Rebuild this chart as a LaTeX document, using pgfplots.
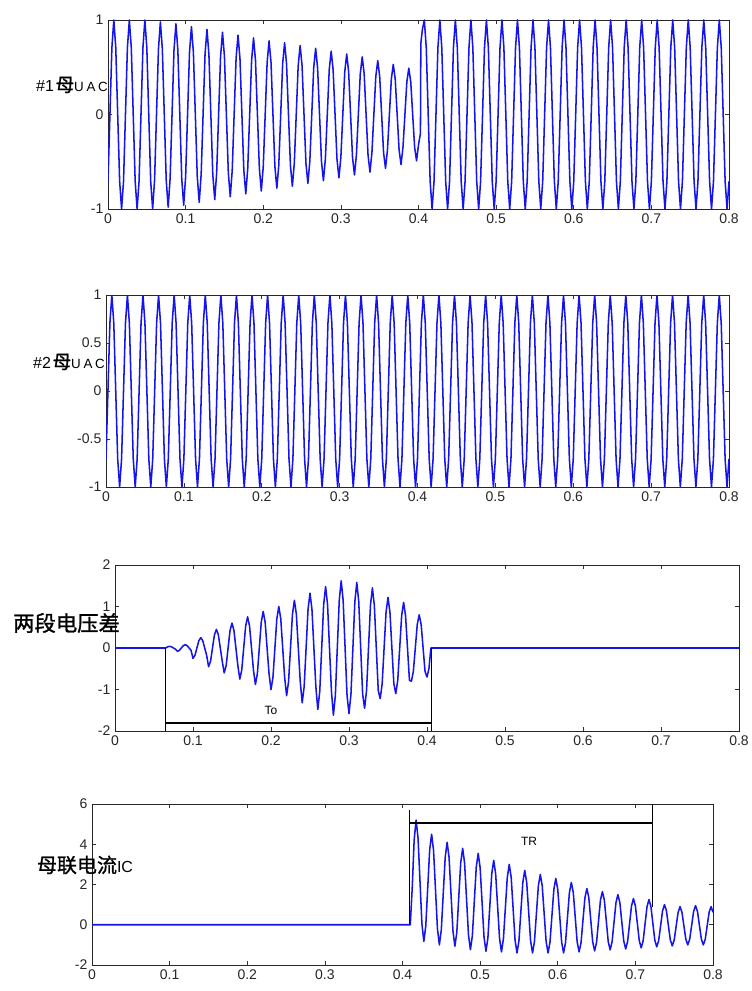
\documentclass[border=0pt]{standalone}
\usepackage{fontspec}
\setmainfont{Liberation Sans}
\newfontfamily\cjk[FakeBold=1.2]{Noto Sans CJK SC}
\usepackage{pgfplots}
\pgfplotsset{compat=1.18}
\definecolor{wave}{RGB}{20,20,235}
\pgfplotsset{
  mpanel/.style={scale only axis,anchor=north west,xmin=0,xmax=0.8,
    xtick={0,0.1,0.2,0.3,0.4,0.5,0.6,0.7,0.8},
    tick align=inside,major tick length=3pt,
    axis line style={black!85,line width=0.7pt},
    tick style={black!80,line width=0.5pt},
    tick label style={font=\fontsize{10.5}{12}\selectfont,color=black!85},
    /pgf/number format/assume math mode=true,
    /pgf/number format/fixed,scaled ticks=false},
  wv/.style={color=wave,line width=1.15pt,line join=round},
  note/.style={black,line width=1.1pt}}
\begin{document}
\begin{tikzpicture}
\path[use as bounding box] (0,0) rectangle (564pt,-743.25pt);

% #1 bus voltage
\begin{axis}[mpanel,at={(81pt,-15pt)},width=465.75pt,height=141.75pt,ymin=-1,ymax=1,ytick={-1,0,1}]
\addplot[wv] coordinates {
(0,-0.707)(0.0025,0)(0.005,0.707)(0.0075,1)(0.01,0.707)(0.0125,0)(0.015,-0.707)(0.0175,-1)
(0.02,-0.707)(0.0225,0)(0.025,0.707)(0.0275,1)(0.03,0.707)(0.0325,0)(0.035,-0.707)(0.0375,-1)
(0.04,-0.707)(0.0425,0)(0.045,0.707)(0.0475,1)(0.05,0.707)(0.0525,0)(0.055,-0.707)(0.0575,-1)
(0.06,-0.693)(0.0625,0)(0.065,0.693)(0.0675,0.98)(0.07,0.693)(0.0725,0)(0.075,-0.693)(0.0775,-0.98)
(0.08,-0.679)(0.0825,0)(0.085,0.679)(0.0875,0.96)(0.09,0.679)(0.0925,0)(0.095,-0.679)(0.0975,-0.96)
(0.1,-0.658)(0.1025,0)(0.105,0.658)(0.1075,0.93)(0.11,0.658)(0.1125,0)(0.115,-0.658)(0.1175,-0.93)
(0.12,-0.636)(0.1225,0)(0.125,0.636)(0.1275,0.9)(0.13,0.636)(0.1325,0)(0.135,-0.636)(0.1375,-0.9)
(0.14,-0.615)(0.1425,0)(0.145,0.615)(0.1475,0.87)(0.15,0.615)(0.1525,0)(0.155,-0.615)(0.1575,-0.87)
(0.16,-0.594)(0.1625,0)(0.165,0.594)(0.1675,0.84)(0.17,0.594)(0.1725,0)(0.175,-0.594)(0.1775,-0.84)
(0.18,-0.573)(0.1825,0)(0.185,0.573)(0.1875,0.81)(0.19,0.573)(0.1925,0)(0.195,-0.573)(0.1975,-0.81)
(0.2,-0.551)(0.2025,0)(0.205,0.551)(0.2075,0.78)(0.21,0.551)(0.2125,0)(0.215,-0.551)(0.2175,-0.78)
(0.22,-0.537)(0.2225,0)(0.225,0.537)(0.2275,0.76)(0.23,0.537)(0.2325,0)(0.235,-0.537)(0.2375,-0.76)
(0.24,-0.516)(0.2425,0)(0.245,0.516)(0.2475,0.73)(0.25,0.516)(0.2525,0)(0.255,-0.516)(0.2575,-0.73)
(0.26,-0.495)(0.2625,0)(0.265,0.495)(0.2675,0.7)(0.27,0.495)(0.2725,0)(0.275,-0.495)(0.2775,-0.7)
(0.28,-0.474)(0.2825,0)(0.285,0.474)(0.2875,0.67)(0.29,0.474)(0.2925,0)(0.295,-0.474)(0.2975,-0.67)
(0.3,-0.452)(0.3025,0)(0.305,0.452)(0.3075,0.64)(0.31,0.452)(0.3125,0)(0.315,-0.452)(0.3175,-0.64)
(0.32,-0.431)(0.3225,0)(0.325,0.431)(0.3275,0.61)(0.33,0.431)(0.3325,0)(0.335,-0.431)(0.3375,-0.61)
(0.34,-0.403)(0.3425,0)(0.345,0.403)(0.3475,0.57)(0.35,0.403)(0.3525,0)(0.355,-0.403)(0.3575,-0.57)
(0.36,-0.375)(0.3625,0)(0.365,0.375)(0.3675,0.53)(0.37,0.375)(0.3725,0)(0.375,-0.375)(0.3775,-0.53)
(0.38,-0.346)(0.3825,0)(0.385,0.346)(0.3875,0.49)(0.39,0.346)(0.3925,0)(0.395,-0.346)(0.3975,-0.49)
(0.4,-0.32)(0.4025,-0.2)(0.403,0.75)(0.405,0.9)(0.4075,1)(0.41,0.707)(0.4125,0)(0.415,-0.707)(0.4175,-1)
(0.42,-0.707)(0.4225,0)(0.425,0.707)(0.4275,1)(0.43,0.707)(0.4325,0)(0.435,-0.707)(0.4375,-1)
(0.44,-0.707)(0.4425,0)(0.445,0.707)(0.4475,1)(0.45,0.707)(0.4525,0)(0.455,-0.707)(0.4575,-1)
(0.46,-0.707)(0.4625,0)(0.465,0.707)(0.4675,1)(0.47,0.707)(0.4725,0)(0.475,-0.707)(0.4775,-1)
(0.48,-0.707)(0.4825,0)(0.485,0.707)(0.4875,1)(0.49,0.707)(0.4925,0)(0.495,-0.707)(0.4975,-1)
(0.5,-0.707)(0.5025,0)(0.505,0.707)(0.5075,1)(0.51,0.707)(0.5125,0)(0.515,-0.707)(0.5175,-1)
(0.52,-0.707)(0.5225,0)(0.525,0.707)(0.5275,1)(0.53,0.707)(0.5325,0)(0.535,-0.707)(0.5375,-1)
(0.54,-0.707)(0.5425,0)(0.545,0.707)(0.5475,1)(0.55,0.707)(0.5525,0)(0.555,-0.707)(0.5575,-1)
(0.56,-0.707)(0.5625,0)(0.565,0.707)(0.5675,1)(0.57,0.707)(0.5725,0)(0.575,-0.707)(0.5775,-1)
(0.58,-0.707)(0.5825,0)(0.585,0.707)(0.5875,1)(0.59,0.707)(0.5925,0)(0.595,-0.707)(0.5975,-1)
(0.6,-0.707)(0.6025,0)(0.605,0.707)(0.6075,1)(0.61,0.707)(0.6125,0)(0.615,-0.707)(0.6175,-1)
(0.62,-0.707)(0.6225,0)(0.625,0.707)(0.6275,1)(0.63,0.707)(0.6325,0)(0.635,-0.707)(0.6375,-1)
(0.64,-0.707)(0.6425,0)(0.645,0.707)(0.6475,1)(0.65,0.707)(0.6525,0)(0.655,-0.707)(0.6575,-1)
(0.66,-0.707)(0.6625,0)(0.665,0.707)(0.6675,1)(0.67,0.707)(0.6725,0)(0.675,-0.707)(0.6775,-1)
(0.68,-0.707)(0.6825,0)(0.685,0.707)(0.6875,1)(0.69,0.707)(0.6925,0)(0.695,-0.707)(0.6975,-1)
(0.7,-0.707)(0.7025,0)(0.705,0.707)(0.7075,1)(0.71,0.707)(0.7125,0)(0.715,-0.707)(0.7175,-1)
(0.72,-0.707)(0.7225,0)(0.725,0.707)(0.7275,1)(0.73,0.707)(0.7325,0)(0.735,-0.707)(0.7375,-1)
(0.74,-0.707)(0.7425,0)(0.745,0.707)(0.7475,1)(0.75,0.707)(0.7525,0)(0.755,-0.707)(0.7575,-1)
(0.76,-0.707)(0.7625,0)(0.765,0.707)(0.7675,1)(0.77,0.707)(0.7725,0)(0.775,-0.707)(0.7775,-1)
(0.78,-0.707)(0.7825,0)(0.785,0.707)(0.7875,1)(0.79,0.707)(0.7925,0)(0.795,-0.707)(0.7975,-1)
(0.8,-0.707)};
\end{axis}

% #2 bus voltage
\begin{axis}[mpanel,at={(79.5pt,-221.25pt)},width=467.25pt,height=144pt,ymin=-1,ymax=1,ytick={-1,-0.5,0,0.5,1}]
\addplot[wv] coordinates {
(0,-0.707)(0.0025,0)(0.005,0.707)(0.0075,1)(0.01,0.707)(0.0125,0)(0.015,-0.707)(0.0175,-1)
(0.02,-0.707)(0.0225,0)(0.025,0.707)(0.0275,1)(0.03,0.707)(0.0325,0)(0.035,-0.707)(0.0375,-1)
(0.04,-0.707)(0.0425,0)(0.045,0.707)(0.0475,1)(0.05,0.707)(0.0525,0)(0.055,-0.707)(0.0575,-1)
(0.06,-0.707)(0.0625,0)(0.065,0.707)(0.0675,1)(0.07,0.707)(0.0725,0)(0.075,-0.707)(0.0775,-1)
(0.08,-0.707)(0.0825,0)(0.085,0.707)(0.0875,1)(0.09,0.707)(0.0925,0)(0.095,-0.707)(0.0975,-1)
(0.1,-0.707)(0.1025,0)(0.105,0.707)(0.1075,1)(0.11,0.707)(0.1125,0)(0.115,-0.707)(0.1175,-1)
(0.12,-0.707)(0.1225,0)(0.125,0.707)(0.1275,1)(0.13,0.707)(0.1325,0)(0.135,-0.707)(0.1375,-1)
(0.14,-0.707)(0.1425,0)(0.145,0.707)(0.1475,1)(0.15,0.707)(0.1525,0)(0.155,-0.707)(0.1575,-1)
(0.16,-0.707)(0.1625,0)(0.165,0.707)(0.1675,1)(0.17,0.707)(0.1725,0)(0.175,-0.707)(0.1775,-1)
(0.18,-0.707)(0.1825,0)(0.185,0.707)(0.1875,1)(0.19,0.707)(0.1925,0)(0.195,-0.707)(0.1975,-1)
(0.2,-0.707)(0.2025,0)(0.205,0.707)(0.2075,1)(0.21,0.707)(0.2125,0)(0.215,-0.707)(0.2175,-1)
(0.22,-0.707)(0.2225,0)(0.225,0.707)(0.2275,1)(0.23,0.707)(0.2325,0)(0.235,-0.707)(0.2375,-1)
(0.24,-0.707)(0.2425,0)(0.245,0.707)(0.2475,1)(0.25,0.707)(0.2525,0)(0.255,-0.707)(0.2575,-1)
(0.26,-0.707)(0.2625,0)(0.265,0.707)(0.2675,1)(0.27,0.707)(0.2725,0)(0.275,-0.707)(0.2775,-1)
(0.28,-0.707)(0.2825,0)(0.285,0.707)(0.2875,1)(0.29,0.707)(0.2925,0)(0.295,-0.707)(0.2975,-1)
(0.3,-0.707)(0.3025,0)(0.305,0.707)(0.3075,1)(0.31,0.707)(0.3125,0)(0.315,-0.707)(0.3175,-1)
(0.32,-0.707)(0.3225,0)(0.325,0.707)(0.3275,1)(0.33,0.707)(0.3325,0)(0.335,-0.707)(0.3375,-1)
(0.34,-0.707)(0.3425,0)(0.345,0.707)(0.3475,1)(0.35,0.707)(0.3525,0)(0.355,-0.707)(0.3575,-1)
(0.36,-0.707)(0.3625,0)(0.365,0.707)(0.3675,1)(0.37,0.707)(0.3725,0)(0.375,-0.707)(0.3775,-1)
(0.38,-0.707)(0.3825,0)(0.385,0.707)(0.3875,1)(0.39,0.707)(0.3925,0)(0.395,-0.707)(0.3975,-1)
(0.4,-0.707)(0.4025,0)(0.405,0.707)(0.4075,1)(0.41,0.707)(0.4125,0)(0.415,-0.707)(0.4175,-1)
(0.42,-0.707)(0.4225,0)(0.425,0.707)(0.4275,1)(0.43,0.707)(0.4325,0)(0.435,-0.707)(0.4375,-1)
(0.44,-0.707)(0.4425,0)(0.445,0.707)(0.4475,1)(0.45,0.707)(0.4525,0)(0.455,-0.707)(0.4575,-1)
(0.46,-0.707)(0.4625,0)(0.465,0.707)(0.4675,1)(0.47,0.707)(0.4725,0)(0.475,-0.707)(0.4775,-1)
(0.48,-0.707)(0.4825,0)(0.485,0.707)(0.4875,1)(0.49,0.707)(0.4925,0)(0.495,-0.707)(0.4975,-1)
(0.5,-0.707)(0.5025,0)(0.505,0.707)(0.5075,1)(0.51,0.707)(0.5125,0)(0.515,-0.707)(0.5175,-1)
(0.52,-0.707)(0.5225,0)(0.525,0.707)(0.5275,1)(0.53,0.707)(0.5325,0)(0.535,-0.707)(0.5375,-1)
(0.54,-0.707)(0.5425,0)(0.545,0.707)(0.5475,1)(0.55,0.707)(0.5525,0)(0.555,-0.707)(0.5575,-1)
(0.56,-0.707)(0.5625,0)(0.565,0.707)(0.5675,1)(0.57,0.707)(0.5725,0)(0.575,-0.707)(0.5775,-1)
(0.58,-0.707)(0.5825,0)(0.585,0.707)(0.5875,1)(0.59,0.707)(0.5925,0)(0.595,-0.707)(0.5975,-1)
(0.6,-0.707)(0.6025,0)(0.605,0.707)(0.6075,1)(0.61,0.707)(0.6125,0)(0.615,-0.707)(0.6175,-1)
(0.62,-0.707)(0.6225,0)(0.625,0.707)(0.6275,1)(0.63,0.707)(0.6325,0)(0.635,-0.707)(0.6375,-1)
(0.64,-0.707)(0.6425,0)(0.645,0.707)(0.6475,1)(0.65,0.707)(0.6525,0)(0.655,-0.707)(0.6575,-1)
(0.66,-0.707)(0.6625,0)(0.665,0.707)(0.6675,1)(0.67,0.707)(0.6725,0)(0.675,-0.707)(0.6775,-1)
(0.68,-0.707)(0.6825,0)(0.685,0.707)(0.6875,1)(0.69,0.707)(0.6925,0)(0.695,-0.707)(0.6975,-1)
(0.7,-0.707)(0.7025,0)(0.705,0.707)(0.7075,1)(0.71,0.707)(0.7125,0)(0.715,-0.707)(0.7175,-1)
(0.72,-0.707)(0.7225,0)(0.725,0.707)(0.7275,1)(0.73,0.707)(0.7325,0)(0.735,-0.707)(0.7375,-1)
(0.74,-0.707)(0.7425,0)(0.745,0.707)(0.7475,1)(0.75,0.707)(0.7525,0)(0.755,-0.707)(0.7575,-1)
(0.76,-0.707)(0.7625,0)(0.765,0.707)(0.7675,1)(0.77,0.707)(0.7725,0)(0.775,-0.707)(0.7775,-1)
(0.78,-0.707)(0.7825,0)(0.785,0.707)(0.7875,1)(0.79,0.707)(0.7925,0)(0.795,-0.707)(0.7975,-1)
(0.8,-0.707)};
\end{axis}

% voltage difference between the two sections
\begin{axis}[mpanel,at={(86.25pt,-423.75pt)},width=468pt,height=124.5pt,ymin=-2,ymax=2,ytick={-2,-1,0,1,2}]
\addplot[wv] coordinates {
(0,0)(0.065,0)(0.0675,0.028)(0.07,0.04)(0.0725,0.028)(0.075,0)(0.0775,-0.028)
(0.08,-0.08)(0.0825,-0.057)(0.085,0)(0.0875,0.057)(0.09,0.08)(0.0925,0.057)(0.095,0)(0.0975,-0.057)
(0.1,-0.25)(0.1025,-0.177)(0.105,0)(0.1075,0.177)(0.11,0.25)(0.1125,0.177)(0.115,0)(0.1175,-0.177)
(0.12,-0.45)(0.1225,-0.318)(0.125,0)(0.1275,0.318)(0.13,0.45)(0.1325,0.318)(0.135,0)(0.1375,-0.318)
(0.14,-0.6)(0.1425,-0.424)(0.145,0)(0.1475,0.424)(0.15,0.6)(0.1525,0.424)(0.155,0)(0.1575,-0.424)
(0.16,-0.75)(0.1625,-0.53)(0.165,0)(0.1675,0.53)(0.17,0.75)(0.1725,0.53)(0.175,0)(0.1775,-0.53)
(0.18,-0.88)(0.1825,-0.622)(0.185,0)(0.1875,0.622)(0.19,0.88)(0.1925,0.622)(0.195,0)(0.1975,-0.622)
(0.2,-1)(0.2025,-0.707)(0.205,0)(0.2075,0.707)(0.21,1)(0.2125,0.707)(0.215,0)(0.2175,-0.707)
(0.22,-1.15)(0.2225,-0.813)(0.225,0)(0.2275,0.813)(0.23,1.15)(0.2325,0.813)(0.235,0)(0.2375,-0.813)
(0.24,-1.32)(0.2425,-0.933)(0.245,0)(0.2475,0.933)(0.25,1.32)(0.2525,0.933)(0.255,0)(0.2575,-0.933)
(0.26,-1.48)(0.2625,-1.046)(0.265,0)(0.2675,1.046)(0.27,1.48)(0.2725,1.046)(0.275,0)(0.2775,-1.046)
(0.28,-1.62)(0.2825,-1.145)(0.285,0)(0.2875,1.145)(0.29,1.62)(0.2925,1.145)(0.295,0)(0.2975,-1.145)
(0.3,-1.58)(0.3025,-1.117)(0.305,0)(0.3075,1.117)(0.31,1.58)(0.3125,1.117)(0.315,0)(0.3175,-1.117)
(0.32,-1.45)(0.3225,-1.025)(0.325,0)(0.3275,1.025)(0.33,1.45)(0.3325,1.025)(0.335,0)(0.3375,-1.025)
(0.34,-1.22)(0.3425,-0.863)(0.345,0)(0.3475,0.863)(0.35,1.22)(0.3525,0.863)(0.355,0)(0.3575,-0.863)
(0.36,-1.1)(0.3625,-0.778)(0.365,0)(0.3675,0.778)(0.37,1.1)(0.3725,0.778)(0.375,0)(0.3775,-0.778)
(0.38,-0.8)(0.3825,-0.566)(0.385,0)(0.3875,0.566)(0.39,0.8)(0.3925,0.566)(0.395,0)(0.3975,-0.566)
(0.4,-0.7)(0.4025,-0.495)(0.405,0)(0.8,0)};
\addplot[note] coordinates {(0.065,0)(0.065,-2)};
\addplot[note] coordinates {(0.065,-1.81)(0.406,-1.81)};
\addplot[note] coordinates {(0.406,0)(0.406,-2)};
\node[font=\fontsize{9}{10}\selectfont] at (axis cs:0.2,-1.5) {To};
\end{axis}

% bus-coupler current
\begin{axis}[mpanel,at={(69pt,-603pt)},width=465.75pt,height=120.75pt,ymin=-2,ymax=6,ytick={-2,0,2,4,6}]
\addplot[wv] coordinates {
(0,0)(0.41,0)(0.4125,1.8)(0.415,4.2)(0.4175,5.2)
(0.42,4.32)(0.4225,2.19)(0.425,0.05)(0.4275,-0.83)(0.43,-0.05)(0.4325,1.84)(0.435,3.72)(0.4375,4.5)
(0.44,3.69)(0.4425,1.75)(0.445,-0.19)(0.4475,-1)(0.45,-0.25)(0.4525,1.55)(0.455,3.35)(0.4575,4.1)
(0.46,3.34)(0.4625,1.52)(0.465,-0.31)(0.4675,-1.07)(0.47,-0.36)(0.4725,1.37)(0.475,3.09)(0.4775,3.8)
(0.48,3.06)(0.4825,1.28)(0.485,-0.5)(0.4875,-1.24)(0.49,-0.54)(0.4925,1.16)(0.495,2.85)(0.4975,3.55)
(0.5,2.84)(0.5025,1.12)(0.505,-0.61)(0.5075,-1.32)(0.51,-0.66)(0.5125,0.94)(0.515,2.54)(0.5175,3.2)
(0.52,2.53)(0.5225,0.93)(0.525,-0.68)(0.5275,-1.35)(0.53,-0.71)(0.5325,0.83)(0.535,2.36)(0.5375,3)
(0.54,2.36)(0.5425,0.8)(0.545,-0.76)(0.5475,-1.4)(0.55,-0.8)(0.5525,0.65)(0.555,2.1)(0.5575,2.7)
(0.56,2.1)(0.5625,0.65)(0.565,-0.8)(0.5675,-1.4)(0.57,-0.83)(0.5725,0.55)(0.575,1.93)(0.5775,2.5)
(0.58,1.93)(0.5825,0.55)(0.585,-0.83)(0.5875,-1.4)(0.59,-0.86)(0.5925,0.45)(0.595,1.76)(0.5975,2.3)
(0.6,1.76)(0.6025,0.45)(0.605,-0.86)(0.6075,-1.4)(0.61,-0.89)(0.6125,0.35)(0.615,1.59)(0.6175,2.1)
(0.62,1.6)(0.6225,0.38)(0.625,-0.85)(0.6275,-1.35)(0.63,-0.89)(0.6325,0.23)(0.635,1.34)(0.6375,1.8)
(0.64,1.35)(0.6425,0.25)(0.645,-0.85)(0.6475,-1.3)(0.65,-0.87)(0.6525,0.18)(0.655,1.22)(0.6575,1.65)
(0.66,1.23)(0.6625,0.2)(0.665,-0.83)(0.6675,-1.25)(0.67,-0.85)(0.6725,0.13)(0.675,1.1)(0.6775,1.5)
(0.68,1.1)(0.6825,0.15)(0.685,-0.8)(0.6875,-1.2)(0.69,-0.83)(0.6925,0.05)(0.695,0.93)(0.6975,1.3)
(0.7,0.94)(0.7025,0.08)(0.705,-0.79)(0.7075,-1.15)(0.71,-0.8)(0.7125,0.05)(0.715,0.9)(0.7175,1.25)
(0.72,0.91)(0.7225,0.08)(0.725,-0.76)(0.7275,-1.1)(0.73,-0.79)(0.7325,-0.05)(0.735,0.69)(0.7375,1)
(0.74,0.7)(0.7425,-0.03)(0.745,-0.75)(0.7475,-1.05)(0.75,-0.76)(0.7525,-0.08)(0.755,0.61)(0.7575,0.9)
(0.76,0.62)(0.7625,-0.05)(0.765,-0.72)(0.7675,-1)(0.77,-0.71)(0.7725,-0.03)(0.775,0.66)(0.7775,0.95)
(0.78,0.66)(0.7825,-0.03)(0.785,-0.71)(0.7875,-1)(0.79,-0.72)(0.7925,-0.05)(0.795,0.62)(0.7975,0.9)
(0.8,0.62)};
\addplot[note] coordinates {(0.409,0)(0.409,5.68)};
\addplot[note] coordinates {(0.409,5.05)(0.722,5.05)};
\addplot[note] coordinates {(0.722,6)(0.722,0.9)};
\node[font=\fontsize{9}{10}\selectfont] at (axis cs:0.563,4.12) {TR};
\end{axis}

% y labels, set horizontally as in the source figure
\node[anchor=east,inner sep=0pt] at (81pt,-63.75pt)
  {{\fontsize{12}{14}\selectfont\#1}\hspace{1.2pt}{\cjk\fontsize{14}{16}\selectfont 母}{\fontsize{10}{12}\selectfont U\hspace{2pt}A\hspace{2pt}C}};
\node[anchor=east,inner sep=0pt] at (78.75pt,-271.5pt)
  {{\fontsize{12}{14}\selectfont\#2}\hspace{1.2pt}{\cjk\fontsize{14}{16}\selectfont 母}{\fontsize{10}{12}\selectfont U\hspace{2pt}A\hspace{2pt}C}};
\node[inner sep=0pt] at (49.9pt,-467.25pt) {\cjk\fontsize{16}{18}\selectfont 两段电压差};
\node[inner sep=0pt] at (63.75pt,-648.75pt)
  {{\cjk\fontsize{15}{17}\selectfont 母联电流}{\fontsize{12}{14}\selectfont IC}};
\end{tikzpicture}
\end{document}
